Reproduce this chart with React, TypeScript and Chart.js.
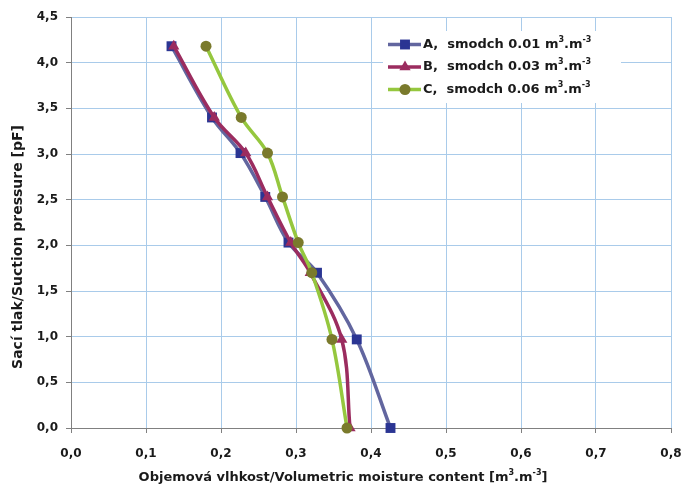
import React, { useEffect, useRef } from 'react';
import { Chart, registerables } from 'chart.js';

Chart.register(...registerables);

// ---- data ----
const suctionPF = [4.18, 3.4, 3.01, 2.53, 2.03, 1.7, 0.97, 0.0];
const moistureA = [0.134, 0.188, 0.226, 0.259, 0.29, 0.328, 0.381, 0.426];
const moistureB = [0.137, 0.191, 0.233, 0.262, 0.293, 0.319, 0.361, 0.372];
const moistureC = [0.18, 0.227, 0.262, 0.282, 0.303, 0.321, 0.348, 0.368];
const seriesLabels = ['A,  smodch 0.01 m', 'B,  smodch 0.03 m', 'C,  smodch 0.06 m'];
const unitParts = ['3', '.m', '-3'];
const xTitleMain = 'Objemová vlhkost/Volumetric moisture content [m';
const xTitleEnd = ']';
const yTitle = 'Sací tlak/Suction pressure [pF]';

const FONT = '"DejaVu Sans", "Liberation Sans", Arial, sans-serif';
const lineColors = ['#62669F', '#9B2C5F', '#95C73E'];
const markerColors = ['#2B3593', '#9B2C5F', '#7A7A2C'];
const markerStyles = ['rect', 'triangle', 'circle'];
const markerRadii = [7, 6.5, 5.5];

type Part = { t: string; sup?: boolean };

function drawRich(ctx: CanvasRenderingContext2D, parts: Part[], x: number, y: number, size: number, align: 'left' | 'center') {
  const supSize = Math.round(size * 0.62);
  let total = 0;
  for (const p of parts) {
    ctx.font = `bold ${p.sup ? supSize : size}px ${FONT}`;
    total += ctx.measureText(p.t).width;
  }
  let cx = align === 'center' ? x - total / 2 : x;
  ctx.textBaseline = 'middle';
  ctx.textAlign = 'left';
  for (const p of parts) {
    ctx.font = `bold ${p.sup ? supSize : size}px ${FONT}`;
    ctx.fillText(p.t, cx, p.sup ? y - size * 0.38 : y);
    cx += ctx.measureText(p.t).width;
  }
}

function drawMarker(ctx: CanvasRenderingContext2D, style: string, r: number, x: number, y: number, color: string) {
  ctx.fillStyle = color;
  ctx.beginPath();
  if (style === 'rect') {
    const s = r * Math.SQRT1_2;
    ctx.rect(x - s, y - s, 2 * s, 2 * s);
  } else if (style === 'triangle') {
    ctx.moveTo(x, y - r);
    ctx.lineTo(x + 0.866 * r, y + 0.5 * r);
    ctx.lineTo(x - 0.866 * r, y + 0.5 * r);
    ctx.closePath();
  } else {
    ctx.arc(x, y, r, 0, Math.PI * 2);
  }
  ctx.fill();
}

const overlayPlugin = {
  id: 'overlay',
  afterDraw(chart: any) {
    const ctx = chart.ctx as CanvasRenderingContext2D;
    ctx.save();
    // legend
    ctx.fillStyle = '#ffffff';
    ctx.fillRect(383, 31, 238, 72);
    const rowY = [44.5, 67, 89.5];
    for (let i = 0; i < 3; i++) {
      const y = rowY[i];
      ctx.strokeStyle = lineColors[i];
      ctx.lineWidth = 3.5;
      ctx.beginPath();
      ctx.moveTo(388, y);
      ctx.lineTo(421, y);
      ctx.stroke();
      drawMarker(ctx, markerStyles[i], markerRadii[i], 405, y, markerColors[i]);
      ctx.fillStyle = '#1a1a1a';
      drawRich(ctx, [
        { t: seriesLabels[i] },
        { t: unitParts[0], sup: true },
        { t: unitParts[1] },
        { t: unitParts[2], sup: true },
      ], 423, y, 13, 'left');
    }
    // x title
    ctx.fillStyle = '#1a1a1a';
    drawRich(ctx, [
      { t: xTitleMain },
      { t: unitParts[0], sup: true },
      { t: unitParts[1] },
      { t: unitParts[2], sup: true },
      { t: xTitleEnd },
    ], 343, 477.5, 13, 'center');
    // y title
    ctx.translate(18.5, 247);
    ctx.rotate(-Math.PI / 2);
    drawRich(ctx, [{ t: yTitle }], 0, 0, 14, 'center');
    ctx.restore();
  },
};

const fmt = (v: any) => Number(v).toFixed(1).replace('.', ',');

export default function App() {
  const ref = useRef<HTMLCanvasElement | null>(null);
  useEffect(() => {
    if (!ref.current) return;
    const series = [moistureA, moistureB, moistureC];
    const datasets = series.map((xs, i) => ({
      label: seriesLabels[i],
      data: xs.map((x, j) => ({ x, y: suctionPF[j] })),
      showLine: true,
      borderColor: lineColors[i],
      borderWidth: 3.5,
      tension: 0.35,
      pointStyle: markerStyles[i],
      pointRadius: markerRadii[i],
      pointBackgroundColor: markerColors[i],
      pointBorderColor: markerColors[i],
      pointBorderWidth: 0,
      clip: false,
      order: 2 - i,
    }));
    const tickFont = { family: FONT, size: 12, weight: 'bold' as const };
    const chart = new Chart(ref.current, {
      type: 'scatter',
      data: { datasets } as any,
      options: {
        animation: false,
        responsive: false,
        devicePixelRatio: 1,
        layout: { padding: { top: 17, right: 12, left: 0, bottom: 0 } },
        plugins: { legend: { display: false }, tooltip: { enabled: false } },
        scales: {
          x: {
            type: 'linear',
            min: 0,
            max: 0.8,
            ticks: { stepSize: 0.1, callback: fmt, font: tickFont, color: '#1a1a1a', padding: 14, maxRotation: 0 },
            grid: { color: '#A9CBEA', tickColor: '#808080', tickLength: 5, lineWidth: 1 },
            border: { color: '#808080', width: 1 },
            afterFit: (s: any) => { s.height = 63; s.paddingLeft = 0; s.paddingRight = 0; },
          },
          y: {
            type: 'linear',
            min: 0,
            max: 4.5,
            ticks: { stepSize: 0.5, callback: fmt, font: tickFont, color: '#1a1a1a', padding: 8 },
            grid: { color: '#A9CBEA', tickColor: '#808080', tickLength: 5, lineWidth: 1 },
            border: { color: '#808080', width: 1 },
            afterFit: (s: any) => { s.width = 71; s.paddingTop = 0; s.paddingBottom = 0; },
          },
        },
      } as any,
      plugins: [overlayPlugin],
    });
    return () => chart.destroy();
  }, []);
  return (
    <div style={{ position: 'fixed', left: 0, top: 0, width: 683, height: 491, background: '#fff' }}>
      <canvas ref={ref} width={683} height={491} style={{ display: 'block', width: 683, height: 491 }} />
    </div>
  );
}
